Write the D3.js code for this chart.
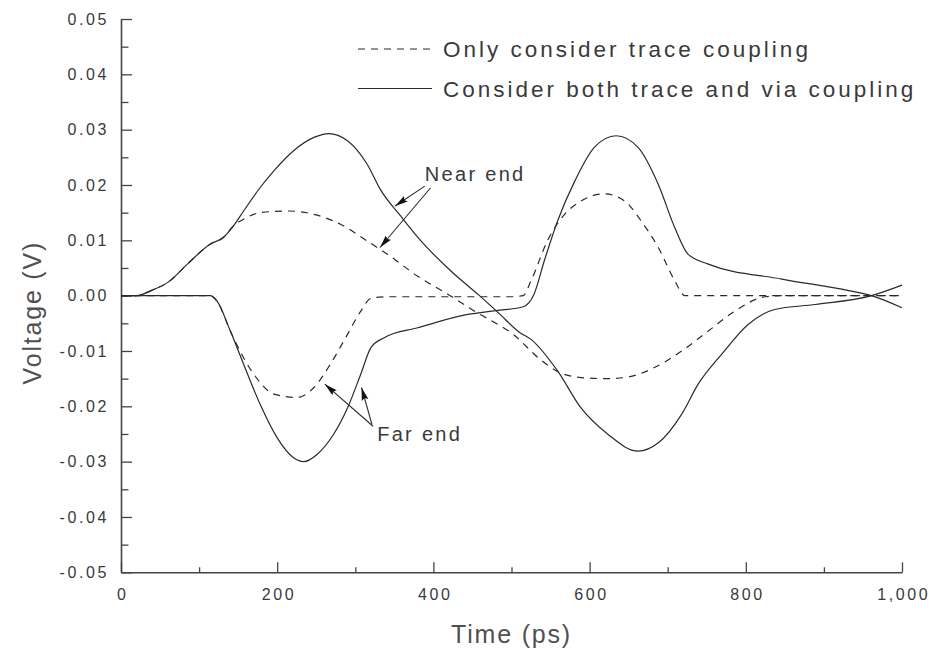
<!DOCTYPE html>
<html>
<head>
<meta charset="utf-8">
<script src="https://cdn.jsdelivr.net/npm/d3@7"></script>
<style>
  html, body { margin: 0; padding: 0; background: #fff; }
  svg { display: block; font-family: "Liberation Sans", Arial, sans-serif; }
</style>
</head>
<body>
<svg id="chart" width="929" height="652"></svg>
<script>
// ---------------- data ----------------
const nearBothT = [0, 20, 40, 60, 85, 114, 131, 144, 157, 178, 196, 221, 247, 266, 290, 315, 332, 358, 384, 422, 459, 484, 510, 525, 559, 589, 623, 662, 688, 718, 739, 769, 803, 837, 889, 961, 1000];
const nearBothV = [0, 0, 0.001, 0.0024, 0.0057, 0.0093, 0.0105, 0.0126, 0.0153, 0.0195, 0.0226, 0.0262, 0.0286, 0.0293, 0.028, 0.0238, 0.0192, 0.0144, 0.0099, 0.0045, 0, -0.0032, -0.0066, -0.0079, -0.0136, -0.0203, -0.025, -0.0281, -0.0266, -0.0214, -0.016, -0.0106, -0.0052, -0.0025, -0.0016, 0, 0.0019];

const nearTraceT = [0, 20, 40, 60, 85, 114, 131, 144, 157, 178, 213, 247, 281, 315, 341, 380, 418, 455, 470, 504, 534, 559, 589, 620, 645, 683, 718, 752, 786, 825, 850, 1000];
const nearTraceV = [0, 0, 0.001, 0.0024, 0.0057, 0.0093, 0.0105, 0.0126, 0.0138, 0.015, 0.0153, 0.0147, 0.0129, 0.0099, 0.0075, 0.0035, 0.0003, -0.003, -0.0042, -0.0072, -0.0112, -0.0137, -0.0148, -0.015, -0.0148, -0.013, -0.01, -0.0064, -0.0028, -0.0002, 0, 0];

const farBothT = [0, 114, 123, 140, 157, 178, 200, 221, 234, 251, 272, 290, 307, 320, 337, 380, 444, 480, 515, 529, 542, 559, 581, 606, 634, 662, 688, 709, 726, 752, 846, 932, 961, 1000];
const farBothV = [0, 0, -0.001, -0.0064, -0.0124, -0.0196, -0.0257, -0.0293, -0.03, -0.0287, -0.0251, -0.0203, -0.0142, -0.0094, -0.0076, -0.0058, -0.0034, -0.0027, -0.002, 0.0003, 0.0063, 0.0135, 0.0207, 0.0268, 0.0289, 0.0268, 0.0201, 0.0123, 0.0075, 0.0057, 0.003, 0.0009, 0, -0.0022];

const farTraceT = [0, 114, 123, 140, 148, 170, 196, 225, 247, 268, 290, 307, 320, 340, 500, 515, 525, 546, 568, 589, 619, 645, 666, 688, 709, 722, 1000];
const farTraceV = [0, 0, -0.001, -0.0064, -0.0088, -0.0142, -0.0178, -0.0184, -0.0166, -0.0124, -0.007, -0.0028, -0.0005, -0.0002, -0.0002, 0, 0.0027, 0.0099, 0.0147, 0.0171, 0.0184, 0.0171, 0.0135, 0.0087, 0.0027, 0, 0];

const xTicks = [0, 200, 400, 600, 800, 1000];
const xTickLabels = ["0", "200", "400", "600", "800", "1,000"];
const xMinorTicks = [100, 300, 500, 700, 900];
const yTicks = [-0.05, -0.04, -0.03, -0.02, -0.01, 0, 0.01, 0.02, 0.03, 0.04, 0.05];
const yTickLabels = ["-0.05", "-0.04", "-0.03", "-0.02", "-0.01", "0.00", "0.01", "0.02", "0.03", "0.04", "0.05"];
const yMinorTicks = [-0.045, -0.035, -0.025, -0.015, -0.005, 0.005, 0.015, 0.025, 0.035, 0.045];

const legendLabels = ["Only consider trace coupling", "Consider both trace and via coupling"];
const xTitle = "Time (ps)";
const yTitle = "Voltage (V)";

// annotations in data space: label position, arrows [fromT, fromV, toT, toV]
const nearLabel = { text: "Near end", t: 389, v: 0.0208 };
const nearArrows = [[389, 0.0198, 351, 0.0162], [396.5, 0.0195, 331.6, 0.0087]];
const farLabel = { text: "Far end", t: 328, v: -0.0262 };
const farArrows = [[322.7, -0.0236, 261, -0.016], [321.4, -0.0233, 308, -0.0166]];

// ---------------- chart ----------------
const svg = d3.select("#chart");
const x = d3.scaleLinear().domain([0, 1000]).range([121, 902]);
const y = d3.scaleLinear().domain([-0.05, 0.05]).range([572.3, 19]);

const axisColor = "#444";
const textColor = "#3a3a3a";

// minor ticks
svg.append("g").attr("transform", `translate(${x(0)},0)`)
  .call(d3.axisLeft(y).tickValues(yMinorTicks).tickSize(-7.5).tickSizeOuter(0).tickFormat(""))
  .call(g => g.select(".domain").remove())
  .call(g => g.selectAll("line").attr("stroke", axisColor).attr("stroke-width", 1.3));
svg.append("g").attr("transform", `translate(0,${y(-0.05)})`)
  .call(d3.axisBottom(x).tickValues(xMinorTicks).tickSize(-5).tickSizeOuter(0).tickFormat(""))
  .call(g => g.select(".domain").remove())
  .call(g => g.selectAll("line").attr("stroke", axisColor).attr("stroke-width", 1.3));

// major axes
const yAxis = svg.append("g").attr("transform", `translate(${x(0)},0)`)
  .call(d3.axisLeft(y).tickValues(yTicks).tickSize(-11).tickSizeOuter(0).tickPadding(12)
    .tickFormat((d, i) => yTickLabels[i]));
const xAxis = svg.append("g").attr("transform", `translate(0,${y(-0.05)})`)
  .call(d3.axisBottom(x).tickValues(xTicks).tickSize(-10).tickSizeOuter(0).tickPadding(16)
    .tickFormat((d, i) => xTickLabels[i]));

[yAxis, xAxis].forEach(g => {
  g.select(".domain").attr("stroke", axisColor).attr("stroke-width", 1.6);
  g.selectAll(".tick line").attr("stroke", axisColor).attr("stroke-width", 1.3);
  g.selectAll(".tick text").attr("fill", textColor)
    .style("font-size", "16px").style("letter-spacing", "2.6px")
    .attr("font-family", "Liberation Sans, Arial, sans-serif");
});
xAxis.selectAll(".tick text").attr("dx", "1.3px");

// axis titles
svg.append("text")
  .attr("x", (x(0) + x(1000)) / 2).attr("y", 643)
  .attr("text-anchor", "middle")
  .attr("fill", "#505050").style("font-size", "25px").style("letter-spacing", "1.8px")
  .text(xTitle);
svg.append("text")
  .attr("transform", `translate(41,${y(0) + 17}) rotate(-90)`)
  .attr("text-anchor", "middle")
  .attr("fill", "#505050").style("font-size", "25px").style("letter-spacing", "1.8px")
  .text(yTitle);

// curves
const line = d3.line().x(d => x(d[0])).y(d => y(d[1])).curve(d3.curveMonotoneX);
const zip = (ts, vs) => ts.map((t, i) => [t, vs[i]]);
const series = [
  { data: zip(farTraceT, farTraceV), dash: "7,6" },
  { data: zip(nearTraceT, nearTraceV), dash: "7,6" },
  { data: zip(farBothT, farBothV), dash: null },
  { data: zip(nearBothT, nearBothV), dash: null }
];
svg.append("g").selectAll("path").data(series).join("path")
  .attr("d", d => line(d.data))
  .attr("fill", "none")
  .attr("stroke", "#2a2a2a")
  .attr("stroke-width", 1.2)
  .attr("stroke-dasharray", d => d.dash);

// arrow marker
svg.append("defs").append("marker")
  .attr("id", "arrowhead").attr("markerUnits", "userSpaceOnUse")
  .attr("markerWidth", 14).attr("markerHeight", 8)
  .attr("refX", 13).attr("refY", 4).attr("orient", "auto")
  .append("path").attr("d", "M0,0.6 L13,4 L0,7.4 L2,4 Z").attr("fill", "#111");

const annG = svg.append("g");
[[nearLabel, nearArrows], [farLabel, farArrows]].forEach(([lab, arrows]) => {
  annG.selectAll(null).data(arrows).join("line")
    .attr("x1", d => x(d[0])).attr("y1", d => y(d[1]))
    .attr("x2", d => x(d[2])).attr("y2", d => y(d[3]))
    .attr("stroke", "#2a2a2a").attr("stroke-width", 1.1)
    .attr("marker-end", "url(#arrowhead)");
  annG.append("text")
    .attr("x", x(lab.t)).attr("y", y(lab.v))
    .attr("fill", textColor).style("font-size", "20px").style("letter-spacing", "2.3px")
    .text(lab.text);
});

// legend
const legend = svg.append("g");
const legendRows = [{ y: 49, base: 57, dash: "7,6" }, { y: 88.5, base: 97, dash: null }];
legendRows.forEach((r, i) => {
  legend.append("line")
    .attr("x1", 358).attr("x2", 432).attr("y1", r.y).attr("y2", r.y)
    .attr("stroke", "#2a2a2a").attr("stroke-width", 1.2)
    .attr("stroke-dasharray", r.dash);
  legend.append("text")
    .attr("x", 443).attr("y", r.base)
    .attr("fill", textColor).style("font-size", "22.5px").style("letter-spacing", "3px")
    .text(legendLabels[i]);
});
</script>
</body>
</html>
